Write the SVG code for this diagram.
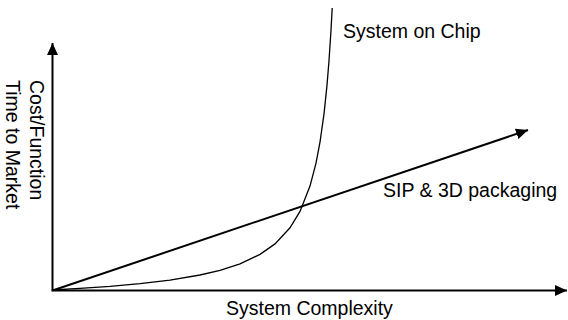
<svg xmlns="http://www.w3.org/2000/svg" width="568" height="320" viewBox="0 0 568 320">
<style>
.lbl{font-family:"Liberation Sans",Arial,sans-serif;font-size:19.5px;fill:#000}
.ax{stroke:#000;stroke-width:2;fill:none}
.crv{stroke:#000;stroke-width:1.3;fill:none}
</style>
<defs>
<marker id="ah" markerUnits="userSpaceOnUse" markerWidth="12" markerHeight="11" refX="12" refY="5.5" orient="auto">
<path d="M0,0 L12,5.5 L0,11 Z" fill="#000"/>
</marker>
</defs>
<g id="connectors">
<line class="ax" x1="52.5" y1="290.5" x2="52.5" y2="43" marker-end="url(#ah)"/>
<line class="ax" x1="51.5" y1="290.5" x2="567" y2="290.5" marker-end="url(#ah)"/>
<line class="ax" x1="52.5" y1="290.5" x2="528" y2="130" marker-end="url(#ah)"/>
<path class="crv" d="M52,290 L80,288.4 L110,286.4 L140,283.7 L170,280.1 L200,275 L220,270.3 L240,263.8 L260,254.4 L275,243.9 L290,227.8 L300,211.4 L310,186.1 L316,163.1 L320,142.1 L324,113.8 L327,85.1 L329,60.7 L331,30.2 L332.2,8"/>
</g>
<g id="soc"><text class="lbl" x="343" y="38">System on Chip</text></g>
<g id="sip"><text class="lbl" x="383" y="197">SIP &amp; 3D packaging</text></g>
<g id="xlabel"><text class="lbl" x="226" y="315">System Complexity</text></g>
<g id="ylabel">
<text class="lbl" transform="translate(30,80) rotate(90)">Cost/Function</text>
<text class="lbl" transform="translate(6,80) rotate(90)">Time to Market</text>
</g>
</svg>
